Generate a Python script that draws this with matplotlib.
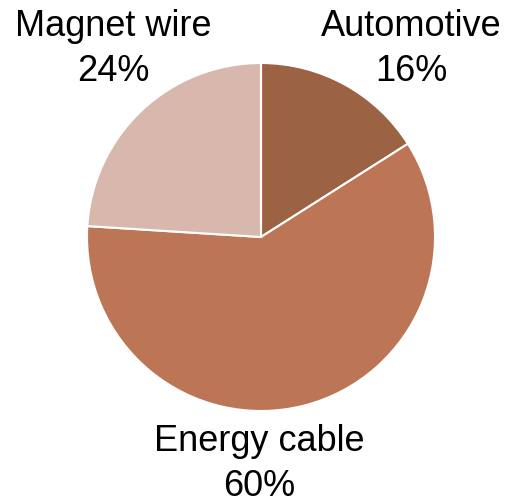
import matplotlib
matplotlib.use('Agg')
import matplotlib.pyplot as plt

labels = ['Automotive', 'Energy cable', 'Magnet wire']
shares = [16, 60, 24]
colors = ['#9C6244', '#BC7655', '#D8B8AD']

W, H = 510, 503
fig = plt.figure(figsize=(W / 100, H / 100), dpi=100)
plt.rcParams['font.family'] = ['Liberation Sans', 'DejaVu Sans']

cx, cy, r = 261, 237, 174
ax = fig.add_axes([(cx - r) / W, (H - cy - r) / H, 2 * r / W, 2 * r / H])
ax.pie(shares, colors=colors, startangle=90, counterclock=False,
       wedgeprops=dict(edgecolor='white', linewidth=1.5))
ax.set_xlim(-1, 1)
ax.set_ylim(-1, 1)
ax.set_aspect('equal')

# label positions in pixels (from top-left)
label_pos = [(411, 49), (259, 464), (113, 49)]
for lab, val, (px, py) in zip(labels, shares, label_pos):
    fig.text(px / W, 1 - py / H, f'{lab}\n{val}%', ha='center', va='center',
             fontsize=26, linespacing=1.35)

fig.savefig('out.png', dpi=100)
